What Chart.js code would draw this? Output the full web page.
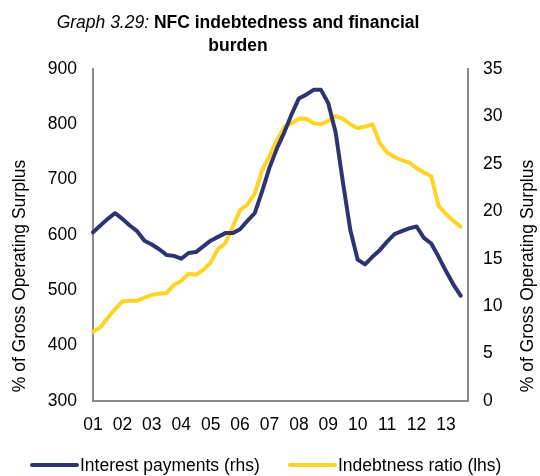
<!DOCTYPE html>
<html>
<head>
<meta charset="utf-8">
<script src="https://cdn.jsdelivr.net/npm/chart.js@4.4.1/dist/chart.umd.min.js"></script>
<style>
  html, body { margin: 0; padding: 0; background: #fff; }
  #wrap { width: 540px; height: 476px; }
</style>
</head>
<body>
<div id="wrap"><canvas id="c" width="540" height="476"></canvas></div>
<script>
// quarterly, 2001Q1 .. 2013Q4 (last quarter has no data yet)
var yearLabels = ['01', '02', '03', '04', '05', '06', '07', '08', '09', '10', '11', '12', '13'];
var leftTicks = [300, 400, 500, 600, 700, 800, 900];
var rightTicks = [0, 5, 10, 15, 20, 25, 30, 35];

// interest payments, % of GOS (right axis)
var interestPayments = [
  17.8, 18.5, 19.2, 19.8, 19.2, 18.5, 17.9, 16.9, 16.5, 16.0, 15.4, 15.3, 15.0,
  15.6, 15.7, 16.3, 16.9, 17.3, 17.7, 17.7, 18.1, 19.0, 19.8, 22.1, 24.6, 26.6,
  28.3, 30.2, 31.9, 32.3, 32.8, 32.8, 31.4, 28.3, 23.0, 18.0, 14.9, 14.4, 15.2,
  15.9, 16.8, 17.6, 17.9, 18.2, 18.4, 17.2, 16.6, 15.2, 13.7, 12.3, 11.1
];
// indebtedness ratio, % of GOS (left axis)
var indebtednessRatio = [
  425, 433, 450, 466, 480, 481, 481, 487, 492, 494, 495, 510, 517,
  530, 528, 537, 550, 575, 585, 615, 645, 655, 675, 717, 743, 771,
  795, 802, 810, 810, 802, 800, 806, 815, 810, 800, 793, 796, 800,
  766, 749, 741, 735, 731, 721, 713, 706, 653, 638, 626, 615
];

var quarters = [];
for (var i = 0; i < yearLabels.length; i++) {
  for (var q = 1; q <= 4; q++) quarters.push(yearLabels[i] + 'Q' + q);
}

var FONT = '"Liberation Sans", Arial, sans-serif';
var AXIS_GREY = '#8a8a8a';

var annotate = {
  id: 'annotate',
  afterDraw: function (chart) {
    var ctx = chart.ctx;
    ctx.save();
    ctx.fillStyle = '#000';
    ctx.textBaseline = 'alphabetic';

    // title, italic number + bold text
    var part1 = 'Graph 3.29: ';
    var part2 = 'NFC indebtedness and financial';
    ctx.font = 'italic 17.5px ' + FONT;
    var w1 = ctx.measureText(part1).width;
    ctx.font = 'bold 17.5px ' + FONT;
    var w2 = ctx.measureText(part2).width;
    var tx = 238 - (w1 + w2) / 2;
    ctx.textAlign = 'left';
    ctx.font = 'italic 17.5px ' + FONT;
    ctx.fillText(part1, tx, 28);
    ctx.font = 'bold 17.5px ' + FONT;
    ctx.fillText(part2, tx + w1, 28);
    ctx.textAlign = 'center';
    ctx.fillText('burden', 238, 51);

    // axis titles, both reading upwards
    ctx.font = '17.5px ' + FONT;
    ctx.textBaseline = 'middle';
    [20, 528].forEach(function (x) {
      ctx.save();
      ctx.translate(x, 276);
      ctx.rotate(-Math.PI / 2);
      ctx.fillText('% of Gross Operating Surplus', 0, 0);
      ctx.restore();
    });

    // legend
    var items = [
      { ds: chart.data.datasets[0], x: 32 },
      { ds: chart.data.datasets[1], x: 290 }
    ];
    ctx.textAlign = 'left';
    ctx.textBaseline = 'alphabetic';
    ctx.lineCap = 'round';
    items.forEach(function (it) {
      ctx.strokeStyle = it.ds.borderColor;
      ctx.lineWidth = 4;
      ctx.beginPath();
      ctx.moveTo(it.x, 465);
      ctx.lineTo(it.x + 45, 465);
      ctx.stroke();
      ctx.fillText(it.ds.label, it.x + 48, 471);
    });
    ctx.restore();
  }
};

new Chart(document.getElementById('c'), {
  type: 'line',
  data: {
    labels: quarters,
    datasets: [
      {
        label: 'Interest payments (rhs)',
        data: interestPayments,
        yAxisID: 'y1',
        borderColor: '#2e3472',
        borderWidth: 4,
        pointRadius: 0,
        borderJoinStyle: 'round',
        borderCapStyle: 'round',
        tension: 0
      },
      {
        label: 'Indebtness ratio (lhs)',
        data: indebtednessRatio,
        yAxisID: 'y',
        borderColor: '#ffd426',
        borderWidth: 4,
        pointRadius: 0,
        borderJoinStyle: 'round',
        borderCapStyle: 'round',
        tension: 0
      }
    ]
  },
  options: {
    responsive: false,
    animation: false,
    layout: { padding: { top: 69, bottom: 45, left: 0, right: 0 } },
    plugins: {
      legend: { display: false },
      title: { display: false },
      tooltip: { enabled: false }
    },
    scales: {
      x: {
        type: 'category',
        offset: false,
        grid: { display: false, drawTicks: false },
        border: { display: true, color: AXIS_GREY, width: 2 },
        ticks: {
          autoSkip: false,
          maxRotation: 0,
          padding: 14,
          color: '#000',
          font: { family: FONT, size: 17.5 },
          callback: function (v, i) { return i % 4 === 0 ? yearLabels[i / 4] : null; }
        },
        afterFit: function (s) { s.height = 30; }
      },
      y: {
        position: 'left',
        min: leftTicks[0],
        max: leftTicks[leftTicks.length - 1],
        grid: { display: false, drawTicks: false },
        border: { display: true, color: AXIS_GREY, width: 2 },
        ticks: {
          stepSize: 100,
          padding: 16,
          color: '#000',
          font: { family: FONT, size: 17.5 }
        },
        afterFit: function (s) { s.width = 93; }
      },
      y1: {
        position: 'right',
        min: rightTicks[0],
        max: rightTicks[rightTicks.length - 1],
        grid: { display: false, drawTicks: false },
        border: { display: true, color: AXIS_GREY, width: 2 },
        ticks: {
          stepSize: 5,
          padding: 15,
          color: '#000',
          font: { family: FONT, size: 17.5 }
        },
        afterFit: function (s) { s.width = 72; }
      }
    }
  },
  plugins: [annotate]
});
</script>
</body>
</html>
